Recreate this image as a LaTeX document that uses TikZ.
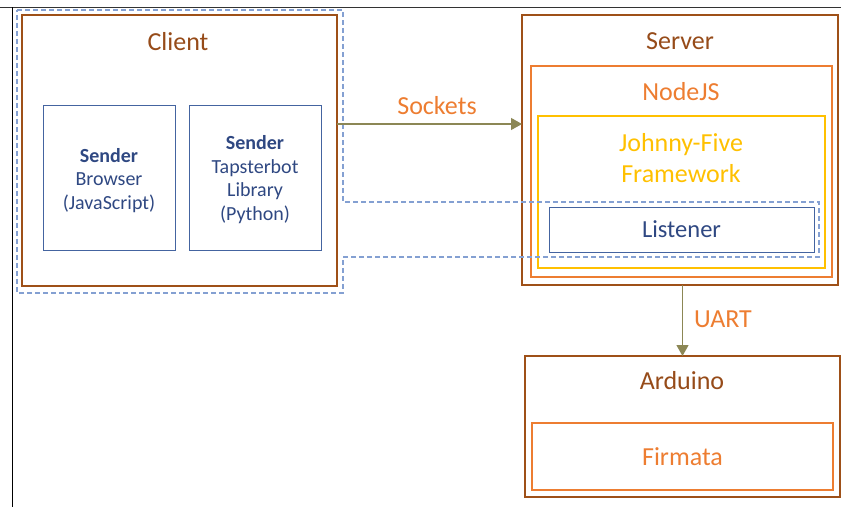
\documentclass[tikz,border=0pt]{standalone}
\usepackage{fontspec}
\setmainfont{Carlito}
\usetikzlibrary{arrows.meta}
\definecolor{cbrown}{RGB}{158,80,24}
\definecolor{cbrowntxt}{RGB}{150,75,25}
\definecolor{corange}{RGB}{237,125,49}
\definecolor{cyellow}{RGB}{255,192,0}
\definecolor{cblue}{RGB}{68,100,160}
\definecolor{cbluetxt}{RGB}{47,72,130}
\definecolor{cdash}{RGB}{132,160,210}
\definecolor{colive}{RGB}{140,135,85}
\tikzset{
  box/.style={draw, inner sep=0pt, outer sep=0pt, anchor=north west},
  brownbox/.style={box, cbrown, line width=2.9pt},
  orangebox/.style={box, corange, line width=1.2pt},
  yellowbox/.style={box, cyellow, line width=1.2pt},
  bluebox/.style={box, cblue, line width=1pt},
  bigtxt/.style={font=\fontsize{26}{31}\selectfont, inner sep=0pt, align=center},
  smalltxt/.style={font=\fontsize{20}{23.5}\selectfont, inner sep=0pt, align=center, text=cbluetxt},
  conn/.style={colive, line width=1.2pt, -{Triangle[length=11pt,width=12pt]}},
}
\begin{document}
\begin{tikzpicture}[x=1pt,y=-1pt]
\useasboundingbox (0,0) rectangle (841,507);
% screenshot frame
\draw[black!80, line width=0.8pt] (0,7) -- (841,7);
\draw[black, line width=1.3pt] (12.5,7) -- (12.5,507);
% client
\node[brownbox, minimum width=315pt, minimum height=271pt] (client) at (22,15) {};
\node[bigtxt, text=cbrowntxt] (clientlbl) at (178,42) {Client};
\node[bluebox, minimum width=132pt, minimum height=145pt] (s1) at (43,105) {};
\node[bluebox, minimum width=132pt, minimum height=145pt] (s2) at (189,105) {};
\node[smalltxt] (s1txt) at ([yshift=-3pt]s1.center) {\textbf{Sender}\\Browser\\(JavaScript)};
\node[smalltxt] (s2txt) at ([yshift=-2pt]s2.center) {\textbf{Sender}\\Tapsterbot\\Library\\(Python)};
% server
\node[brownbox, minimum width=316pt, minimum height=270pt] (server) at (522,15) {};
\node[bigtxt, text=cbrowntxt] (serverlbl) at (680,41) {Server};
\node[orangebox, minimum width=301pt, minimum height=211pt] (node) at (531,66) {};
\node[bigtxt, text=corange] (nodelbl) at (681,92) {NodeJS};
\node[yellowbox, minimum width=287pt, minimum height=152pt] (j5) at (538,116) {};
\node[bigtxt, text=cyellow] (j5lbl) at (681,158) {Johnny-Five\\Framework};
\node[bluebox, minimum width=265pt, minimum height=45pt] (listener) at (549,207) {};
\node[bigtxt, text=cbluetxt, font=\fontsize{24.5}{29}\selectfont] (listenerlbl) at (listener.center) {Listener};
% arduino
\node[brownbox, minimum width=315pt, minimum height=141pt] (arduino) at (525,356) {};
\node[bigtxt, text=cbrowntxt] (arduinolbl) at (682,381) {Arduino};
\node[orangebox, minimum width=301pt, minimum height=67pt] (firmata) at (532,423) {};
\node[bigtxt, text=corange] (firmatalbl) at (firmata.center) {Firmata};
% dashed highlight
\draw[cdash, line width=1.1pt, dash pattern=on 5pt off 3pt]
  (17,10) -- (343,10) -- (343,202) -- (819,202) -- (819,257) -- (343,257) -- (343,293) -- (17,293) -- cycle;
% connectors
\coordinate (sockety) at (0,124);
\draw[conn] (client.east |- sockety) -- (server.west |- sockety);
\node[bigtxt, text=corange] (socketslbl) at (437,106) {Sockets};
\draw[conn] (server.south -| arduino.north) -- (arduino.north);
\node[bigtxt, text=corange] (uartlbl) at (723,319) {UART};
\end{tikzpicture}
\end{document}
